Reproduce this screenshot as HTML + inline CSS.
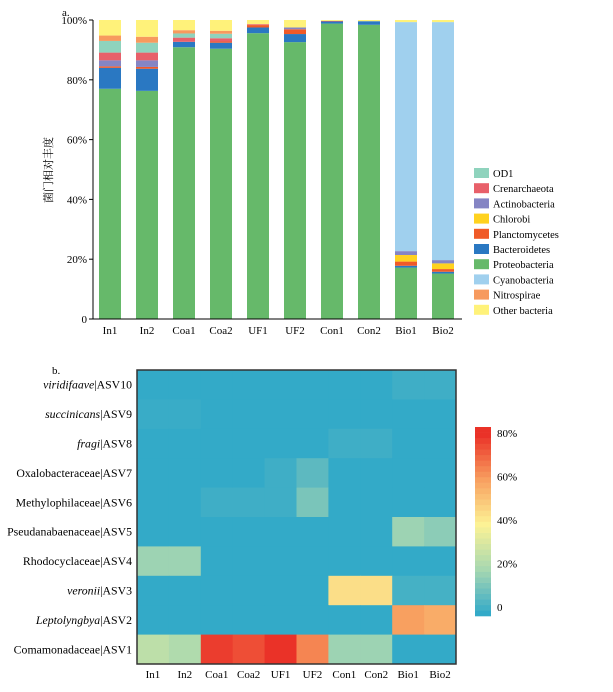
<!DOCTYPE html>
<html><head><meta charset="utf-8">
<style>
html,body{margin:0;padding:0;background:#fff;}
svg{display:block;font-family:"Liberation Serif","Noto Serif CJK SC",serif;}
</style></head>
<body>
<svg id="c" width="613" height="692" viewBox="0 0 613 692" xmlns="http://www.w3.org/2000/svg"></svg>
<script>
// ---- Chart a data ----
const samples = ["In1","In2","Coa1","Coa2","UF1","UF2","Con1","Con2","Bio1","Bio2"];
const seriesNames = ["Proteobacteria","Bacteroidetes","Planctomycetes","Chlorobi","Actinobacteria","Crenarchaeota","OD1","Cyanobacteria","Nitrospirae","Other bacteria"];
const seriesColors = ["#66b96a","#2a78c2","#f05a28","#ffd21f","#8585c4","#e8606a","#8fd3bd","#a0d0ee","#f79a5e","#fff27a"];
const proteobacteria = [77,76.3,90.9,90.4,95.6,92.6,98.8,98.4,17.2,15.2];
const bacteroidetes  = [7,7.4,1.8,2,1.9,2.7,0.7,1.2,0.6,0.6];
const planctomycetes = [0.5,0.6,0,0.4,0.8,1.6,0,0,1.4,0.9];
const chlorobi       = [0,0,0,0,0,0,0,0,2.2,1.9];
const actinobacteria = [2,2.2,0,0,0,0.6,0,0,1.3,1.1];
const crenarchaeota  = [2.6,2.6,1.4,1.1,0.3,0,0.2,0,0,0];
const od1            = [3.9,3.3,1.4,1.5,0,0,0,0,0,0];
const cyanobacteria  = [0,0,0,0,0,0,0,0,76.6,79.6];
const nitrospirae    = [1.8,2,1.1,1,0,0,0,0,0,0];
const otherBacteria  = [5.2,5.6,3.4,3.6,1.4,2.5,0.3,0.4,0.7,0.7];
const stackData = [proteobacteria,bacteroidetes,planctomycetes,chlorobi,actinobacteria,crenarchaeota,od1,cyanobacteria,nitrospirae,otherBacteria];
const legendOrder = ["OD1","Crenarchaeota","Actinobacteria","Chlorobi","Planctomycetes","Bacteroidetes","Proteobacteria","Cyanobacteria","Nitrospirae","Other bacteria"];
const yTicks = [0,20,40,60,80,100];

// ---- Chart b data ----
const asvLabelsItalic = ["viridifaave","succinicans","fragi","","","","","veronii","Leptolyngbya",""];
const asvLabels = ["ASV10","ASV9","ASV8","Oxalobacteraceae|ASV7","Methylophilaceae|ASV6","Pseudanabaenaceae|ASV5","Rhodocyclaceae|ASV4","ASV3","ASV2","Comamonadaceae|ASV1"];
const heat = [
 [0,0,0,0,0,0,0,0,2,2],
 [1,1,0,0,0,0,0,0,0,0],
 [0,0,0,0,0,0,2,2,0,0],
 [0,0,0,0,2,7,0,0,0,0],
 [0,0,2,2,2,12,0,0,0,0],
 [0,0,0,0,0,0,0,0,18,15],
 [18,18,0,0,0,0,0,0,0,0],
 [0,0,0,0,0,0,45,45,3,3],
 [0,0,0,0,0,0,0,0,60,57],
 [25,22,78,75,82,65,18,18,0,0]
];
const cbTicks = [0,20,40,60,80];

const svg = document.getElementById('c');
const NS = "http://www.w3.org/2000/svg";
function mk(tag, attrs, parent){const e=document.createElementNS(NS,tag);for(const k in attrs)e.setAttribute(k,attrs[k]);(parent||svg).appendChild(e);return e;}

// ===== Chart a =====
const y0=319, y100=20, xAxis=93;
const yA = v => y0 - (y0-y100)*v/100;
const xA = i => 110 + i*37;
const bw = 22;
const ga = mk('g',{});


let t=mk('text',{x:62,y:16,'font-size':11},ga);t.textContent='a.';

samples.forEach((s,i)=>{
  let cum=0;
  stackData.forEach((arr,k)=>{
    const v=arr[i]; if(v<=0){return;}
    const r=mk('rect',{x:xA(i)-bw/2,y:yA(cum+v),width:bw,height:yA(cum)-yA(cum+v),fill:seriesColors[k]},ga);
    
    
    cum+=v;
  });
  const l=mk('text',{x:xA(i),y:334,'font-size':11,'text-anchor':'middle'},ga);l.textContent=s;
  
});
let ax=mk('line',{x1:xAxis,y1:y100,x2:xAxis,y2:y0,stroke:'#000','stroke-width':1},ga);

ax=mk('line',{x1:xAxis,y1:y0,x2:462,y2:y0,stroke:'#000','stroke-width':1},ga);

yTicks.forEach(v=>{
  mk('line',{x1:xAxis-4,y1:yA(v),x2:xAxis,y2:yA(v),stroke:'#000'},ga);
  const l=mk('text',{x:xAxis-6,y:yA(v)+4,'font-size':11,'text-anchor':'end'},ga);
  l.textContent = v===0?'0':v+'%';
  
});
t=mk('text',{x:0,y:0,'font-size':11,'text-anchor':'middle',transform:'translate(52,170) rotate(-90)'},ga);
t.textContent='菌门相对丰度';

legendOrder.forEach((n,j)=>{
  const k=seriesNames.indexOf(n);
  const y=168+j*15.2;
  const g=mk('g',{},ga);
  
  mk('rect',{x:474,y:y,width:15,height:10,fill:seriesColors[k]},g);
  const l=mk('text',{x:493,y:y+9,'font-size':10.5},g);l.textContent=n;
});

// ===== Chart b =====
const hx0=137, hy0=370, cw=31.9, ch=29.4;
const stops=[[0,[51,170,200]],[10,[111,192,189]],[20,[168,216,176]],[40,[252,242,149]],[60,[248,160,96]],[80,[234,50,40]]];
function col(v){
  for(let i=0;i<stops.length-1;i++){
    const [a,ca]=stops[i],[b,cb]=stops[i+1];
    if(v<=b){const f=Math.max(0,(v-a)/(b-a));return 'rgb('+ca.map((c,j)=>Math.round(c+(cb[j]-c)*f)).join(',')+')';}
  }
  return 'rgb(234,50,40)';
}
const gb=mk('g',{});

t=mk('text',{x:52,y:374,'font-size':11},gb);t.textContent='b.';

heat.forEach((row,r)=>{
  row.forEach((v,c)=>{
    const e=mk('rect',{x:hx0+c*cw,y:hy0+r*ch,width:cw+0.5,height:ch+0.5,fill:col(v)},gb);
    
  });
  const l=mk('text',{x:hx0-5,y:hy0+r*ch+ch/2+4,'font-size':11.8,'text-anchor':'end'},gb);
  
  if(asvLabelsItalic[r]){
    const it=mk('tspan',{'font-style':'italic'},l);it.textContent=asvLabelsItalic[r];
    const n=mk('tspan',{},l);n.textContent='|'+asvLabels[r];
  } else l.textContent=asvLabels[r];
});
let fr=mk('rect',{x:hx0,y:hy0,width:cw*10,height:ch*10,fill:'none',stroke:'#333','stroke-width':1.5},gb);

samples.forEach((s,c)=>{
  const l=mk('text',{x:hx0+c*cw+cw/2,y:678,'font-size':11,'text-anchor':'middle'},gb);l.textContent=s;
  
});
// colorbar
const cbx=475, cbTop=427, cbBot=616, cbw=16;
const cbY=v=>cbBot-(cbBot-cbTop)*v/85;
const cbLabelY=v=>607-(607-433)*v/80;
const gc=mk('g',{},gb);

for(let i=0;i<34;i++){
  const v=i*2.5;
  mk('rect',{x:cbx,y:cbY(v+2.5),width:cbw,height:cbY(v)-cbY(v+2.5)+0.3,fill:col(v)},gc);
}
cbTicks.forEach(v=>{
  const l=mk('text',{x:497,y:cbLabelY(v)+4,'font-size':11},gc);
  l.textContent=v===0?'0':v+'%';
  
});
</script>
</body></html>
